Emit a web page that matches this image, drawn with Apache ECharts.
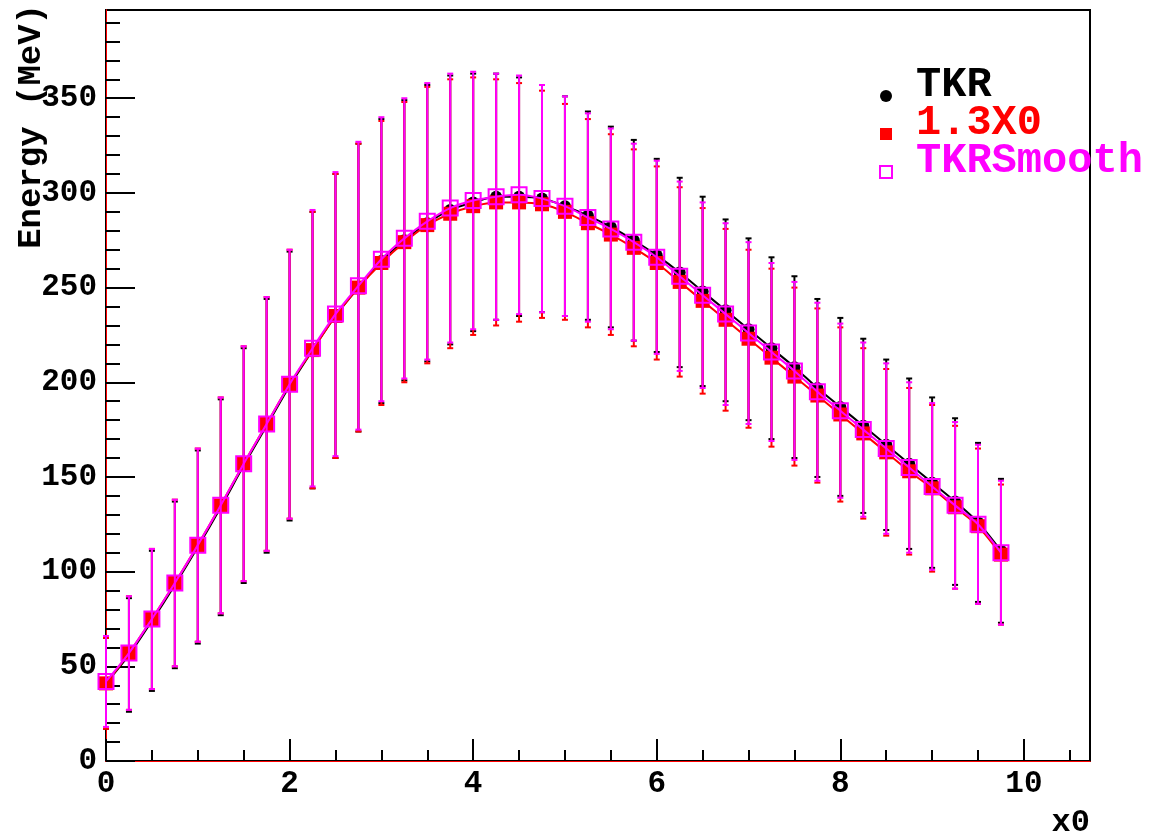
<!DOCTYPE html>
<html>
<head>
<meta charset="utf-8">
<script src="https://cdn.jsdelivr.net/npm/echarts@6/dist/echarts.min.js"></script>
<style>
  html, body { margin: 0; padding: 0; background: #fff; }
  #main { width: 1155px; height: 838px; }
</style>
</head>
<body>
<div id="main"></div>
<script>
// x0 positions of the points
const x0 = [0, 0.25, 0.5, 0.75, 1, 1.25, 1.5, 1.75, 2, 2.25, 2.5, 2.75, 3, 3.25, 3.5, 3.75,
  4, 4.25, 4.5, 4.75, 5, 5.25, 5.5, 5.75, 6, 6.25, 6.5, 6.75, 7, 7.25, 7.5, 7.75,
  8, 8.25, 8.5, 8.75, 9, 9.25, 9.5, 9.75];

// TKR
const tkr = [41, 56, 74, 93, 113, 134, 156, 177, 198, 217, 235, 250, 264, 275, 284, 291,
  295, 298, 298, 297, 293, 288, 282, 275, 267, 258, 248, 238, 228, 218, 208, 197,
  187, 177, 167, 157, 147, 137, 126, 111];
const tkrErr = [24, 30, 37, 44, 51, 57, 62, 67, 71, 73, 75, 76, 75, 74, 73, 71,
  68, 65, 63, 60, 58, 55, 53, 53, 51, 50, 50, 48, 48, 48, 48, 47,
  47, 46, 45, 45, 45, 44, 42, 38];

// 1.3X0
const x13 = [41, 57, 75, 94, 114, 135, 157, 178, 199, 217, 235, 250, 263, 274, 283, 289,
  293, 295, 295, 294, 290, 284, 278, 271, 263, 253, 243, 233, 223, 213, 203, 193,
  183, 173, 163, 153, 144, 134, 124, 109];
const x13Err = [24, 30, 37, 44, 51, 57, 62, 67, 71, 73, 75, 76, 75, 74, 73, 71,
  68, 65, 63, 60, 57, 55, 53, 52, 51, 50, 49, 48, 47, 47, 47, 46,
  46, 45, 44, 44, 44, 43, 41, 37];

// TKRSmooth
const smooth = [42, 57, 75, 94, 114, 135, 157, 178, 199, 218, 236, 251, 265, 276, 285, 292,
  296, 298, 299, 297, 293, 287, 281, 274, 266, 256, 246, 236, 226, 216, 206, 195,
  185, 175, 165, 155, 145, 135, 125, 110];
const smoothErr = [24, 30, 37, 44, 51, 57, 62, 67, 71, 73, 75, 76, 75, 74, 73, 71,
  68, 65, 63, 60, 58, 55, 53, 52, 51, 50, 49, 48, 48, 47, 47, 47,
  46, 46, 45, 45, 44, 44, 42, 38];

// axis ticks
const xMajor = [0, 2, 4, 6, 8, 10];
const xMinor = [0.5, 1, 1.5, 2.5, 3, 3.5, 4.5, 5, 5.5, 6.5, 7, 7.5, 8.5, 9, 9.5, 10.5];
const yMajor = [0, 50, 100, 150, 200, 250, 300, 350];
const yMinor = [10, 20, 30, 40, 60, 70, 80, 90, 110, 120, 130, 140, 160, 170, 180, 190,
  210, 220, 230, 240, 260, 270, 280, 290, 310, 320, 330, 340, 360, 370, 380, 390];
const XMAX = 10.72;
const YMAX = 396.6;

const FONT = '"Liberation Mono", "DejaVu Sans Mono", monospace';

const chart = echarts.init(document.getElementById('main'));

function pts(ys) {
  return x0.map((x, i) => [x, ys[i]]);
}
function errPts(ys, es) {
  return x0.map((x, i) => [x, ys[i], es[i]]);
}

function errBars(color) {
  return function (params, api) {
    const x = api.value(0), y = api.value(1), e = api.value(2);
    const top = api.coord([x, y + e]);
    const bot = api.coord([x, y - e]);
    const h = 3;
    const st = { stroke: color, lineWidth: 2 };
    return {
      type: 'group',
      children: [
        { type: 'line', shape: { x1: top[0], y1: top[1], x2: bot[0], y2: bot[1] }, style: st },
        { type: 'line', shape: { x1: top[0] - h, y1: top[1], x2: top[0] + h, y2: top[1] }, style: st },
        { type: 'line', shape: { x1: bot[0] - h, y1: bot[1], x2: bot[0] + h, y2: bot[1] }, style: st }
      ]
    };
  };
}

var option = {
  animation: false,
  backgroundColor: '#fff',
  grid: {
    left: 106,
    top: 10,
    right: 65,
    bottom: 77,
    outerBoundsMode: 'none',
    containLabel: false,
    show: true,
    borderColor: '#000',
    borderWidth: 2,
    backgroundColor: '#fff'
  },
  legend: {
    orient: 'vertical',
    left: 879,
    top: 64,
    padding: 0,
    itemWidth: 12,
    itemHeight: 12,
    itemGap: -4,
    formatter: '{t|{name}}',
    textStyle: {
      fontFamily: FONT,
      fontWeight: 'bold',
      fontSize: 42,
      padding: [0, 0, 0, 19],
      rich: {
        t: {
          fontFamily: FONT,
          fontWeight: 'bold',
          fontSize: 42,
          lineHeight: 64,
          verticalAlign: 'top'
        }
      }
    },
    data: [
      { name: 'TKR', icon: 'circle', itemStyle: { color: '#000' }, textStyle: { color: '#000' } },
      { name: '1.3X0', icon: 'rect', itemStyle: { color: '#ff0000' }, textStyle: { color: '#ff0000' } },
      { name: 'TKRSmooth', icon: 'rect',
        itemStyle: { color: '#fff', borderColor: '#ff00ff', borderWidth: 2 },
        textStyle: { color: '#ff00ff' } }
    ]
  },
  xAxis: [{
    type: 'value',
    position: 'bottom',
    min: 0,
    max: XMAX,
    name: 'x0',
    nameLocation: 'end',
    nameGap: 0,
    nameMoveOverlap: false,
    nameTextStyle: {
      fontFamily: FONT, fontWeight: 'bold', fontSize: 32, color: '#000',
      align: 'right', verticalAlign: 'top', padding: [46, 0, 0, 0]
    },
    axisLine: { show: true, lineStyle: { color: '#ff0000', width: 1 } },
    axisTick: { show: true, inside: true, length: 22, customValues: xMajor,
      lineStyle: { color: '#000', width: 2 } },
    axisLabel: { customValues: xMajor, margin: 8, fontFamily: FONT, fontWeight: 'bold',
      fontSize: 31, color: '#000' },
    splitLine: { show: false }
  }, {
    type: 'value',
    position: 'bottom',
    min: 0,
    max: XMAX,
    axisLine: { show: false },
    axisTick: { show: true, inside: true, length: 11, customValues: xMinor,
      lineStyle: { color: '#000', width: 2 } },
    axisLabel: { show: false },
    splitLine: { show: false }
  }, {
    type: 'value',
    position: 'top',
    min: 0,
    max: XMAX,
    axisLine: { show: true, lineStyle: { color: '#ff0000', width: 1 } },
    axisTick: { show: false },
    axisLabel: { show: false },
    splitLine: { show: false }
  }],
  yAxis: [{
    type: 'value',
    position: 'left',
    min: 0,
    max: YMAX,
    name: 'Energy (MeV)',
    nameLocation: 'end',
    nameRotate: 90,
    nameGap: 6,
    nameMoveOverlap: false,
    nameTextStyle: {
      fontFamily: FONT, fontWeight: 'bold', fontSize: 34, color: '#000',
      align: 'right', verticalAlign: 'bottom', padding: [0, 0, 58, 0]
    },
    axisLine: { show: true, lineStyle: { color: '#ff0000', width: 1 } },
    axisTick: { show: true, inside: true, length: 29, customValues: yMajor,
      lineStyle: { color: '#000', width: 2 } },
    axisLabel: { customValues: yMajor, margin: 9, fontFamily: FONT, fontWeight: 'bold',
      fontSize: 31, color: '#000' },
    splitLine: { show: false }
  }, {
    type: 'value',
    position: 'left',
    min: 0,
    max: YMAX,
    axisLine: { show: false },
    axisTick: { show: true, inside: true, length: 14, customValues: yMinor,
      lineStyle: { color: '#000', width: 2 } },
    axisLabel: { show: false },
    splitLine: { show: false }
  }, {
    type: 'value',
    position: 'right',
    min: 0,
    max: YMAX,
    axisLine: { show: true, lineStyle: { color: '#ff0000', width: 1 } },
    axisTick: { show: false },
    axisLabel: { show: false },
    splitLine: { show: false }
  }],
  series: [{
    name: 'TKR err',
    type: 'custom',
    z: 2,
    renderItem: errBars('#000'),
    encode: { x: 0, y: 1 },
    data: errPts(tkr, tkrErr)
  }, {
    name: 'TKR',
    type: 'line',
    z: 3,
    smooth: 0.3,
    symbol: 'circle',
    symbolSize: 12,
    itemStyle: { color: '#000' },
    lineStyle: { color: '#000', width: 2 },
    data: pts(tkr)
  }, {
    name: '1.3X0 err',
    type: 'custom',
    z: 4,
    renderItem: errBars('#ff0000'),
    encode: { x: 0, y: 1 },
    data: errPts(x13, x13Err)
  }, {
    name: '1.3X0',
    type: 'line',
    z: 5,
    smooth: 0.3,
    symbol: 'rect',
    symbolSize: 14,
    itemStyle: { color: '#ff0000' },
    lineStyle: { color: '#ff0000', width: 2 },
    data: pts(x13)
  }, {
    name: 'TKRSmooth err',
    type: 'custom',
    z: 6,
    renderItem: errBars('#ff00ff'),
    encode: { x: 0, y: 1 },
    data: errPts(smooth, smoothErr)
  }, {
    name: 'TKRSmooth',
    type: 'line',
    z: 7,
    smooth: 0.3,
    symbol: 'rect',
    symbolSize: 15,
    itemStyle: { color: 'rgba(0,0,0,0)', borderColor: '#ff00ff', borderWidth: 2 },
    lineStyle: { color: '#ff00ff', width: 2 },
    data: pts(smooth)
  }]
};

chart.setOption(option);
</script>
</body>
</html>
